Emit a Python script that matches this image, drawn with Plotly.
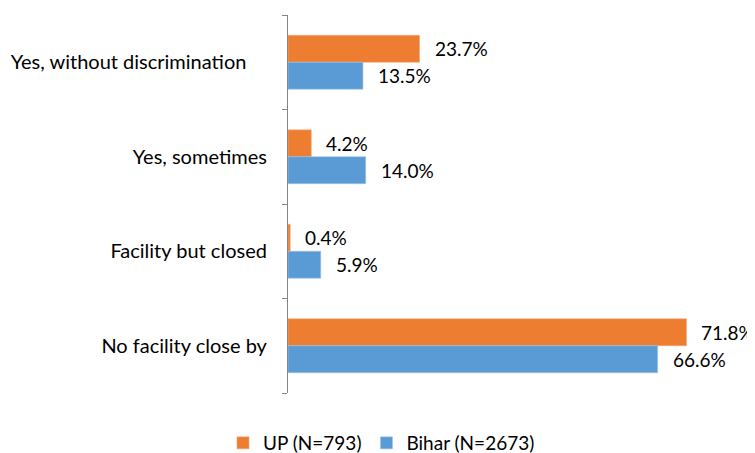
import plotly.graph_objects as go

categories = ["Yes, without discrimination", "Yes, sometimes", "Facility but closed", "No facility close by"]
tick_labels = ["Yes, without discrimination\u00a0\u00a0\u00a0\u00a0", "Yes, sometimes", "Facility but closed", "No facility close by"]
up_values = [23.7, 4.2, 0.4, 71.8]
bihar_values = [13.5, 14.0, 5.9, 66.6]
series_names = ["UP (N=793)", "Bihar (N=2673)"]

FONT = "Lato, Calibri, sans-serif"
fig = go.Figure()

fig.add_trace(go.Bar(
    y=categories, x=up_values, name=series_names[0], orientation="h",
    marker=dict(color="#ED7D31", line=dict(color="#F4A97A", width=0.6)),
    hoverinfo="x+name",
))
fig.add_trace(go.Bar(
    y=categories, x=bihar_values, name=series_names[1], orientation="h",
    marker=dict(color="#5B9BD5", line=dict(color="#9CC3E6", width=0.6)),
    hoverinfo="x+name",
))

# value labels, nudged right of each bar
annotations = []
for vals, shift in [(up_values, 13.5), (bihar_values, -13.5)]:
    for cat, v in zip(categories, vals):
        annotations.append(dict(
            x=v, y=cat, text=f"{v:.1f}%", showarrow=False,
            xanchor="left", yanchor="middle", xshift=13, yshift=shift,
            font=dict(family=FONT, size=19, color="#000000"),
        ))

# page body adds an 8px margin, so the figure is 8px smaller each way
fig.update_layout(
    width=747, height=445,
    margin=dict(l=279.5, r=23, t=7, b=60, autoexpand=False),
    barmode="group", bargap=0.43, bargroupgap=0,
    plot_bgcolor="white", paper_bgcolor="white",
    font=dict(family=FONT, size=20, color="#000000"),
    xaxis=dict(range=[0, 80], visible=False, showgrid=False, zeroline=False),
    yaxis=dict(
        autorange="reversed", showgrid=False, zeroline=False, automargin=False,
        tickmode="array", tickvals=categories, ticktext=tick_labels,
        showline=True, linecolor="#868686", linewidth=1.2,
        ticks="outside", tickson="boundaries", ticklen=5, tickcolor="#868686",
        ticklabelstandoff=16,
        tickfont=dict(family=FONT, size=20, color="#000000"),
    ),
    legend=dict(
        orientation="h", xref="container", x=0.5, xanchor="center",
        yref="container", y=0.0225, yanchor="middle",
        font=dict(family=FONT, size=19, color="#000000"),
        traceorder="normal", itemwidth=30,
    ),
    annotations=annotations,
)

fig.write_html("out.html")
